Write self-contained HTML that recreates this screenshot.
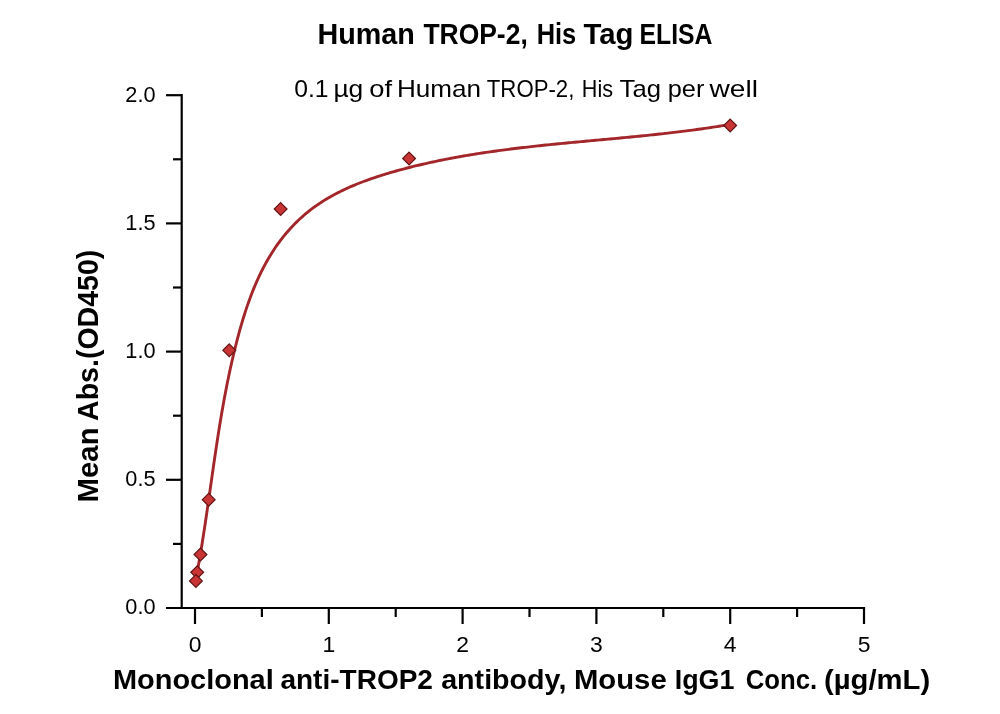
<!DOCTYPE html>
<html><head><meta charset="utf-8"><style>
html,body{margin:0;padding:0;background:#fff;width:1000px;height:714px;overflow:hidden}
svg{display:block}
text{font-family:"Liberation Sans",sans-serif;fill:#000}
svg{will-change:transform}
.b{font-weight:bold}
</style></head><body>
<svg width="1000" height="714" viewBox="0 0 1000 714">
<rect width="1000" height="714" fill="#fff"/>
<text x="317.53" y="44.1" font-size="29.2" class="b" textLength="97.36" lengthAdjust="spacingAndGlyphs">Human</text>
<text x="423.40" y="44.1" font-size="29.2" class="b" textLength="104.34" lengthAdjust="spacingAndGlyphs">TROP-2,</text>
<text x="536.66" y="44.1" font-size="29.2" class="b" textLength="39.58" lengthAdjust="spacingAndGlyphs">His</text>
<text x="583.50" y="44.1" font-size="29.2" class="b" textLength="50.05" lengthAdjust="spacingAndGlyphs">Tag</text>
<text x="639.60" y="44.1" font-size="29.2" class="b" textLength="72.90" lengthAdjust="spacingAndGlyphs">ELISA</text>
<text x="294.27" y="97" font-size="24" textLength="34.34" lengthAdjust="spacingAndGlyphs">0.1</text>
<text x="333.40" y="97" font-size="24" textLength="29.91" lengthAdjust="spacingAndGlyphs">µg</text>
<text x="369.26" y="97" font-size="24" textLength="22.75" lengthAdjust="spacingAndGlyphs">of</text>
<text x="397.03" y="97" font-size="24" textLength="84.07" lengthAdjust="spacingAndGlyphs">Human</text>
<text x="486.80" y="97" font-size="24" textLength="87.56" lengthAdjust="spacingAndGlyphs">TROP-2,</text>
<text x="581.80" y="97" font-size="24" textLength="31.20" lengthAdjust="spacingAndGlyphs">His</text>
<text x="619.60" y="97" font-size="24" textLength="41.42" lengthAdjust="spacingAndGlyphs">Tag</text>
<text x="667.75" y="97" font-size="24" textLength="36.58" lengthAdjust="spacingAndGlyphs">per</text>
<text x="709.60" y="97" font-size="24" textLength="48.37" lengthAdjust="spacingAndGlyphs">well</text>
<g stroke="#000" stroke-width="2.2" fill="none">
<path d="M181.7,94.1 V609.1"/>
<path d="M166,608 H865.1"/>
<path d="M173.0,543.90 H181.7"/>
<path d="M166.0,479.80 H181.7"/>
<path d="M173.0,415.70 H181.7"/>
<path d="M166.0,351.60 H181.7"/>
<path d="M173.0,287.50 H181.7"/>
<path d="M166.0,223.40 H181.7"/>
<path d="M173.0,159.30 H181.7"/>
<path d="M166.0,95.20 H181.7"/>
<path d="M195.00,608 V624.0"/>
<path d="M261.90,608 V617.0"/>
<path d="M328.80,608 V624.0"/>
<path d="M395.70,608 V617.0"/>
<path d="M462.60,608 V624.0"/>
<path d="M529.50,608 V617.0"/>
<path d="M596.40,608 V624.0"/>
<path d="M663.30,608 V617.0"/>
<path d="M730.20,608 V624.0"/>
<path d="M797.10,608 V617.0"/>
<path d="M864.00,608 V624.0"/>
</g>
<text x="155.5" y="614.2" font-size="22.9" text-anchor="end" textLength="30.2" lengthAdjust="spacingAndGlyphs">0.0</text>
<text x="155.5" y="486.1" font-size="22.9" text-anchor="end" textLength="30.2" lengthAdjust="spacingAndGlyphs">0.5</text>
<text x="155.5" y="357.9" font-size="22.9" text-anchor="end" textLength="30.2" lengthAdjust="spacingAndGlyphs">1.0</text>
<text x="155.5" y="229.7" font-size="22.9" text-anchor="end" textLength="30.2" lengthAdjust="spacingAndGlyphs">1.5</text>
<text x="155.5" y="101.5" font-size="22.9" text-anchor="end" textLength="30.2" lengthAdjust="spacingAndGlyphs">2.0</text>
<text x="195.0" y="652.3" font-size="22.9" text-anchor="middle">0</text>
<text x="328.8" y="652.3" font-size="22.9" text-anchor="middle">1</text>
<text x="462.6" y="652.3" font-size="22.9" text-anchor="middle">2</text>
<text x="596.4" y="652.3" font-size="22.9" text-anchor="middle">3</text>
<text x="730.2" y="652.3" font-size="22.9" text-anchor="middle">4</text>
<text x="864.0" y="652.3" font-size="22.9" text-anchor="middle">5</text>
<text x="112.97" y="689.2" font-size="28.5" class="b" textLength="160.78" lengthAdjust="spacingAndGlyphs">Monoclonal</text>
<text x="280.42" y="689.2" font-size="28.5" class="b" textLength="152.55" lengthAdjust="spacingAndGlyphs">anti-TROP2</text>
<text x="441.20" y="689.2" font-size="28.5" class="b" textLength="125.18" lengthAdjust="spacingAndGlyphs">antibody,</text>
<text x="573.94" y="689.2" font-size="28.5" class="b" textLength="92.76" lengthAdjust="spacingAndGlyphs">Mouse</text>
<text x="674.72" y="689.2" font-size="28.5" class="b" textLength="59.62" lengthAdjust="spacingAndGlyphs">IgG1</text>
<text x="745.70" y="689.2" font-size="28.5" class="b" textLength="71.46" lengthAdjust="spacingAndGlyphs">Conc.</text>
<text x="823.97" y="689.2" font-size="28.5" class="b" textLength="106.15" lengthAdjust="spacingAndGlyphs">(µg/mL)</text>
<text x="-502.42" y="98.3" font-size="29" class="b" textLength="74.98" lengthAdjust="spacingAndGlyphs" transform="rotate(-90)">Mean</text>
<text x="-420.98" y="98.3" font-size="29" class="b" textLength="171.31" lengthAdjust="spacingAndGlyphs" transform="rotate(-90)">Abs.(OD450)</text>
<polyline points="195.62,580.59 196.02,578.52 196.41,576.44 196.79,574.37 197.18,572.30 197.55,570.23 197.93,568.16 198.30,566.09 198.66,564.02 199.02,561.96 199.38,559.89 199.73,557.83 200.09,555.76 200.43,553.70 200.78,551.64 201.12,549.58 201.46,547.52 201.79,545.46 202.12,543.40 202.45,541.34 202.78,539.29 203.10,537.23 203.43,535.18 203.74,533.12 204.06,531.07 204.38,529.02 204.69,526.97 205.00,524.92 205.31,522.87 205.61,520.82 205.92,518.77 206.22,516.72 206.52,514.67 206.83,512.63 207.12,510.58 207.42,508.53 207.72,506.49 208.01,504.45 208.31,502.40 208.60,500.36 208.90,498.32 209.19,496.27 209.48,494.23 209.77,492.19 210.06,490.15 210.35,488.11 210.64,486.07 210.93,484.03 211.22,481.99 211.51,479.95 211.80,477.92 212.10,475.88 212.39,473.84 212.68,471.80 212.97,469.77 213.26,467.73 213.56,465.70 213.85,463.66 214.15,461.62 214.44,459.59 214.74,457.55 215.04,455.52 215.34,453.48 215.64,451.45 215.95,449.42 216.25,447.38 216.56,445.35 216.87,443.31 217.18,441.28 217.49,439.25 217.81,437.21 218.12,435.18 218.44,433.15 218.76,431.11 219.09,429.08 219.42,427.05 219.74,425.01 220.08,422.98 220.41,420.95 220.75,418.91 221.09,416.88 221.44,414.85 221.78,412.81 222.13,410.78 222.49,408.74 222.85,406.71 223.21,404.68 223.57,402.64 223.94,400.61 224.32,398.57 224.69,396.54 225.08,394.50 225.46,392.47 225.85,390.43 226.25,388.39 226.65,386.36 227.05,384.32 227.46,382.28 227.87,380.25 228.29,378.21 228.71,376.17 229.14,374.13 229.57,372.09 230.01,370.06 230.46,368.02 230.91,365.98 231.36,363.93 231.82,361.89 232.29,359.85 232.76,357.81 233.24,355.77 233.73,353.72 234.22,351.68 234.71,349.64 235.22,347.59 235.73,345.55 236.24,343.50 236.77,341.45 237.30,339.41 237.84,337.36 238.38,335.31 238.93,333.27 239.49,331.23 240.06,329.18 240.64,327.14 241.23,325.10 241.82,323.07 242.43,321.03 243.04,319.00 243.66,316.98 244.30,314.95 244.94,312.93 245.59,310.92 246.26,308.91 246.93,306.90 247.62,304.90 248.32,302.90 249.02,300.91 249.75,298.93 250.48,296.95 251.22,294.98 251.98,293.02 252.75,291.06 253.53,289.11 254.33,287.17 255.14,285.23 255.96,283.31 256.80,281.39 257.65,279.48 258.52,277.59 259.40,275.70 260.30,273.82 261.21,271.95 262.14,270.09 263.08,268.24 264.04,266.41 265.01,264.58 266.00,262.77 267.01,260.97 268.03,259.18 269.07,257.41 270.13,255.64 271.21,253.90 272.30,252.16 273.41,250.44 274.54,248.73 275.69,247.04 276.86,245.36 278.04,243.70 279.24,242.05 280.46,240.41 281.70,238.80 282.96,237.20 284.24,235.61 285.53,234.04 286.84,232.49 288.17,230.96 289.51,229.44 290.88,227.94 292.26,226.46 293.66,224.99 295.07,223.55 296.51,222.12 297.96,220.71 299.43,219.32 300.91,217.95 302.42,216.60 303.94,215.27 305.47,213.96 307.03,212.67 308.60,211.39 310.18,210.15 311.79,208.92 313.41,207.71 315.05,206.52 316.70,205.36 318.37,204.21 320.05,203.08 321.75,201.98 323.47,200.89 325.19,199.82 326.94,198.77 328.69,197.74 330.46,196.73 332.24,195.73 334.04,194.75 335.84,193.79 337.66,192.85 339.49,191.92 341.33,191.01 343.19,190.12 345.05,189.24 346.92,188.37 348.81,187.53 350.70,186.69 352.60,185.87 354.51,185.07 356.43,184.28 358.36,183.50 360.30,182.74 362.24,181.99 364.19,181.25 366.15,180.53 368.11,179.82 370.08,179.12 372.06,178.43 374.04,177.76 376.03,177.09 378.02,176.44 380.02,175.79 382.02,175.16 384.03,174.54 386.03,173.92 388.05,173.32 390.06,172.72 392.08,172.14 394.10,171.56 396.12,170.99 398.15,170.43 400.17,169.88 402.20,169.33 404.22,168.79 406.25,168.26 408.28,167.73 410.31,167.22 412.34,166.71 414.38,166.21 416.41,165.71 418.44,165.22 420.48,164.74 422.51,164.26 424.55,163.79 426.59,163.33 428.63,162.88 430.67,162.43 432.71,161.98 434.75,161.55 436.79,161.12 438.83,160.69 440.88,160.27 442.92,159.86 444.97,159.45 447.01,159.05 449.06,158.66 451.11,158.27 453.16,157.88 455.21,157.50 457.26,157.13 459.31,156.76 461.36,156.40 463.41,156.04 465.46,155.69 467.52,155.34 469.57,155.00 471.62,154.66 473.68,154.33 475.74,154.00 477.79,153.67 479.85,153.35 481.91,153.04 483.96,152.73 486.02,152.42 488.08,152.12 490.14,151.82 492.20,151.53 494.26,151.24 496.32,150.95 498.39,150.67 500.45,150.39 502.51,150.12 504.57,149.85 506.64,149.58 508.70,149.32 510.77,149.05 512.83,148.80 514.89,148.54 516.96,148.29 519.03,148.04 521.09,147.80 523.16,147.56 525.22,147.32 527.29,147.08 529.36,146.85 531.43,146.61 533.49,146.38 535.56,146.16 537.63,145.93 539.70,145.71 541.77,145.49 543.84,145.27 545.90,145.06 547.97,144.84 550.04,144.63 552.11,144.42 554.18,144.21 556.25,144.01 558.32,143.80 560.39,143.60 562.46,143.40 564.53,143.20 566.60,143.00 568.67,142.80 570.74,142.60 572.81,142.40 574.88,142.21 576.95,142.01 579.02,141.82 581.09,141.63 583.16,141.44 585.23,141.24 587.30,141.05 589.37,140.86 591.44,140.67 593.51,140.48 595.58,140.29 597.65,140.10 599.72,139.91 601.79,139.72 603.86,139.53 605.93,139.34 607.99,139.15 610.06,138.96 612.13,138.77 614.20,138.57 616.27,138.38 618.33,138.19 620.40,137.99 622.47,137.80 624.53,137.60 626.60,137.40 628.67,137.21 630.73,137.01 632.80,136.81 634.86,136.60 636.92,136.40 638.99,136.20 641.05,135.99 643.12,135.78 645.18,135.57 647.24,135.36 649.30,135.15 651.36,134.93 653.42,134.72 655.49,134.50 657.55,134.28 659.60,134.05 661.66,133.83 663.72,133.60 665.78,133.37 667.84,133.13 669.89,132.90 671.95,132.66 674.01,132.42 676.06,132.17 678.11,131.92 680.17,131.67 682.22,131.42 684.27,131.16 686.33,130.90 688.38,130.64 690.43,130.37 692.48,130.10 694.52,129.83 696.57,129.55 698.62,129.27 700.67,128.98 702.71,128.70 704.76,128.40 706.80,128.11 708.84,127.81 710.89,127.50 712.93,127.19 714.97,126.88 717.01,126.56 719.05,126.24 721.09,125.91 723.12,125.58 725.16,125.24 727.20,124.90 729.23,124.55" fill="none" stroke="#a2262a" stroke-width="2.9" stroke-linejoin="round" stroke-linecap="round"/>
<path d="M730.20,119.06 L736.60,125.46 L730.20,131.86 L723.80,125.46 Z" fill="#c93434" stroke="#611313" stroke-width="1.2"/>
<path d="M409.08,152.13 L415.48,158.53 L409.08,164.93 L402.68,158.53 Z" fill="#c93434" stroke="#611313" stroke-width="1.2"/>
<path d="M280.63,202.64 L287.03,209.04 L280.63,215.44 L274.23,209.04 Z" fill="#c93434" stroke="#611313" stroke-width="1.2"/>
<path d="M229.25,343.92 L235.65,350.32 L229.25,356.72 L222.85,350.32 Z" fill="#c93434" stroke="#611313" stroke-width="1.2"/>
<path d="M208.70,493.30 L215.10,499.70 L208.70,506.10 L202.30,499.70 Z" fill="#c93434" stroke="#611313" stroke-width="1.2"/>
<path d="M200.48,548.09 L206.88,554.49 L200.48,560.89 L194.08,554.49 Z" fill="#c93434" stroke="#611313" stroke-width="1.2"/>
<path d="M197.19,565.81 L203.59,572.21 L197.19,578.61 L190.79,572.21 Z" fill="#c93434" stroke="#611313" stroke-width="1.2"/>
<path d="M195.88,574.50 L202.28,580.90 L195.88,587.30 L189.48,580.90 Z" fill="#c93434" stroke="#611313" stroke-width="1.2"/>
</svg></body></html>
